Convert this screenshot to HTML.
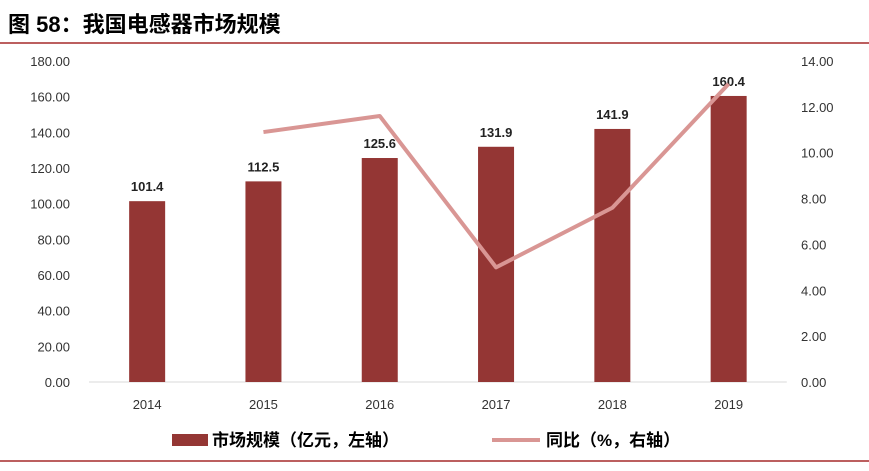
<!DOCTYPE html>
<html><head><meta charset="utf-8">
<style>
body{margin:0;background:#fff;width:869px;height:466px;overflow:hidden;font-family:"Liberation Sans","Noto Sans CJK SC",sans-serif;}
</style></head>
<body>
<svg id="chart" width="869" height="466" xmlns="http://www.w3.org/2000/svg" font-family="Liberation Sans, Noto Sans CJK SC, sans-serif">
<text x="8" y="32" font-size="22" font-weight="bold" fill="#000">图 58：我国电感器市场规模</text>
<line x1="0" y1="43" x2="869" y2="43" stroke="#a52a2a" stroke-width="1.5"/>
<line x1="0" y1="461" x2="869" y2="461" stroke="#a52a2a" stroke-width="1.5"/>
<g id="plot"></g>
<g>
<rect x="172" y="434" width="36" height="12" fill="#943634"/>
<text x="212" y="446" font-size="17" font-weight="bold">市场规模（亿元，左轴）</text>
<line x1="492" y1="440" x2="540" y2="440" stroke="#d99694" stroke-width="4"/>
<text x="546" y="446" font-size="17" font-weight="bold">同比（%，右轴）</text>
</g>
</svg>
<script>
const categories=["2014","2015","2016","2017","2018","2019"];
const marketSize=[101.4,112.5,125.6,131.9,141.9,160.4];
const yoyGrowth=[null,10.9,11.6,5.0,7.6,13.0];
const leftTicks=[0,20,40,60,80,100,120,140,160,180];
const rightTicks=[0,2,4,6,8,10,12,14];
const NS="http://www.w3.org/2000/svg";
const g=document.getElementById('plot');
const plotTop=61,bottom=382,x0=89,step=116.3;
const yL=v=>bottom-(v/180)*(bottom-plotTop);
const yR=v=>bottom-(v/14)*(bottom-plotTop);
const xC=i=>x0+step*(i+0.5);
function mk(t,a,txt){const e=document.createElementNS(NS,t);for(const k in a)e.setAttribute(k,a[k]);if(txt!==undefined)e.textContent=txt;g.appendChild(e);return e;}
leftTicks.forEach(v=>{const e=mk('text',{x:70,y:yL(v)+5,'text-anchor':'end','font-size':13,fill:'#333'},v.toFixed(2));

});
rightTicks.forEach(v=>{const e=mk('text',{x:801,y:yR(v)+5,'font-size':13,fill:'#333'},v.toFixed(2));

});
const ax=mk('line',{x1:x0,y1:bottom,x2:x0+step*6,y2:bottom,stroke:'#d9d9d9'});


categories.forEach((c,i)=>{
const b=mk('rect',{x:xC(i)-18,y:yL(marketSize[i]),width:36,height:bottom-yL(marketSize[i]),fill:'#943634'});


const l=mk('text',{x:xC(i),y:yL(marketSize[i])-10,'text-anchor':'middle','font-size':13,'font-weight':'bold',fill:'#222'},marketSize[i].toFixed(1));


const t=mk('text',{x:xC(i),y:409,'text-anchor':'middle','font-size':13,fill:'#333'},c);


});
const pts=[];yoyGrowth.forEach((v,i)=>{if(v!==null)pts.push(xC(i)+','+yR(v));});
const pl=mk('polyline',{points:pts.join(' '),fill:'none',stroke:'#d99694','stroke-width':4,'stroke-linejoin':'round'});


</script>
</body></html>
